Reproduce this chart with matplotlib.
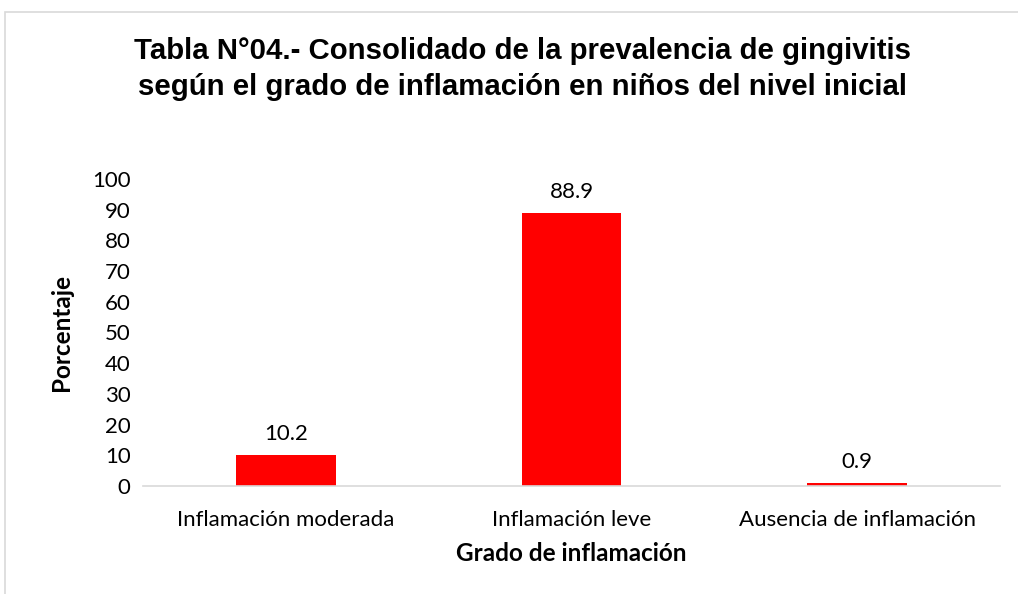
import matplotlib.pyplot as plt
from matplotlib.patches import Rectangle

categories = ['Inflamación moderada', 'Inflamación leve', 'Ausencia de inflamación']
valores = [10.2, 88.9, 0.9]
y_ticks = [0, 10, 20, 30, 40, 50, 60, 70, 80, 90, 100]

W, H = 1018, 594
fig = plt.figure(figsize=(W / 100, H / 100), dpi=100)

# chart border
fig.patches.append(Rectangle((5 / W, -0.01), 1.0, 1 - 12 / H + 0.01, transform=fig.transFigure,
                             fill=False, edgecolor='#d9d9d9', linewidth=1.2))

ax = fig.add_axes([143 / W, 1 - 486 / H, (1000 - 143) / W, (486 - 179) / H])
x = range(len(categories))
bars = ax.bar(x, valores, width=0.35, color='#ff0000')
for b, v in zip(bars, valores):
    ax.text(b.get_x() + b.get_width() / 2, v + 3.5, f'{v:.1f}', ha='center', va='bottom',
            fontsize=16, family='Lato', color='#000000')

ax.set_xlim(-0.5, 2.5)
ax.set_ylim(0, 100)
ax.set_yticks(y_ticks)
ax.set_xticks(list(x))
ax.set_xticklabels(categories)
for lbl in ax.get_xticklabels() + ax.get_yticklabels():
    lbl.set_family('Lato')
    lbl.set_fontsize(16)
ax.tick_params(length=0)
ax.tick_params(axis='x', pad=17)
ax.tick_params(axis='y', pad=9)
for s in ['top', 'right', 'left']:
    ax.spines[s].set_visible(False)
ax.spines['bottom'].set_color('#d9d9d9')
ax.spines['bottom'].set_linewidth(1.2)

ax.set_ylabel('Porcentaje', fontsize=17.5, family='Lato', fontweight='bold')
ax.yaxis.set_label_coords((73 - 143) / (1000 - 143), 0.5)
ax.set_xlabel('Grado de inflamación', fontsize=17.5, family='Lato', fontweight='bold', labelpad=9)

fig.text(0.513, 1 - 69 / H, 'Tabla N°04.- Consolidado de la prevalencia de gingivitis\n'
         'según el grado de inflamación en niños del nivel inicial',
         ha='center', va='center', fontsize=21.2, family='Liberation Sans', fontweight='bold',
         linespacing=1.4)

fig.savefig('out.png', dpi=100)
